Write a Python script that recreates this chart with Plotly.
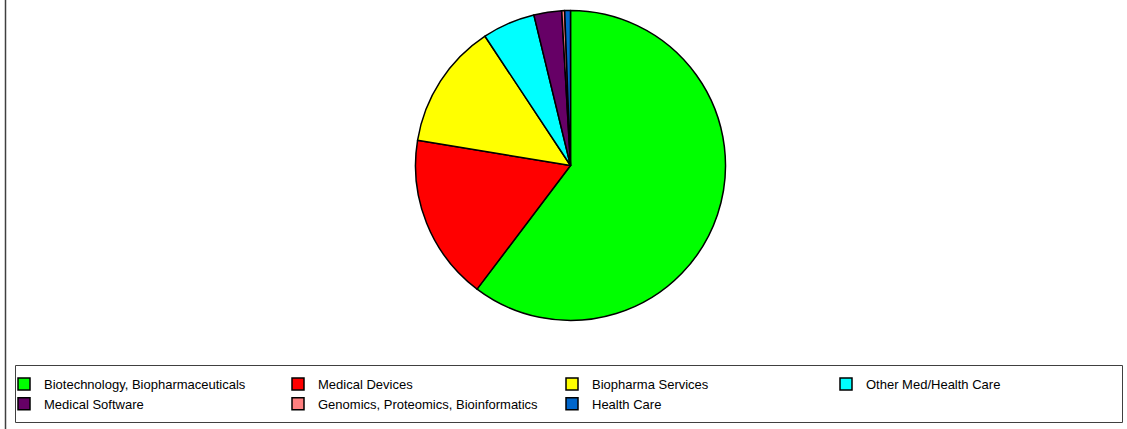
import plotly.graph_objects as go

labels = ["Biotechnology, Biopharmaceuticals", "Medical Devices", "Biopharma Services",
          "Other Med/Health Care", "Medical Software", "Genomics, Proteomics, Bioinformatics",
          "Health Care"]
values = [60.3, 17.3, 13.1, 5.5, 2.9, 0.3, 0.6]
colors = ["#00FF00", "#FF0000", "#FFFF00", "#00FFFF", "#660066", "#FF8080", "#0066CC"]

W, H = 1127, 429
cx, cy, r = 570.5, 165.5, 155

fig = go.Figure(go.Pie(
    labels=labels, values=values, sort=False, direction="clockwise", rotation=0,
    marker=dict(colors=colors, line=dict(color="black", width=1.5)),
    textinfo="none", hoverinfo="label+percent",
    domain=dict(x=[(cx - r) / W, (cx + r) / W], y=[1 - (cy + r) / H, 1 - (cy - r) / H]),
))

fig.update_layout(
    width=W, height=H,
    margin=dict(l=0, r=0, t=0, b=0),
    paper_bgcolor="white", plot_bgcolor="white",
    font=dict(family="Liberation Sans, Arial, sans-serif", size=13, color="black"),
    legend=dict(
        orientation="h", x=4 / W, y=1 - 369 / H, xanchor="left", yanchor="top",
        entrywidth=229, entrywidthmode="pixels", bgcolor="rgba(0,0,0,0)", borderwidth=0,
        font=dict(size=13), traceorder="normal", itemwidth=30,
    ),
    shapes=[
        dict(type="line", xref="paper", yref="paper", x0=5.5 / W, x1=5.5 / W, y0=0, y1=1,
             line=dict(color="#404040", width=1.5)),
        dict(type="rect", xref="paper", yref="paper", x0=15.5 / W, x1=1122.5 / W,
             y0=1 - 422.5 / H, y1=1 - 365.5 / H, line=dict(color="#404040", width=1)),
    ],
)

fig.write_html("out.html", config={"displayModeBar": False},
               post_script="document.body.style.margin='0';")
